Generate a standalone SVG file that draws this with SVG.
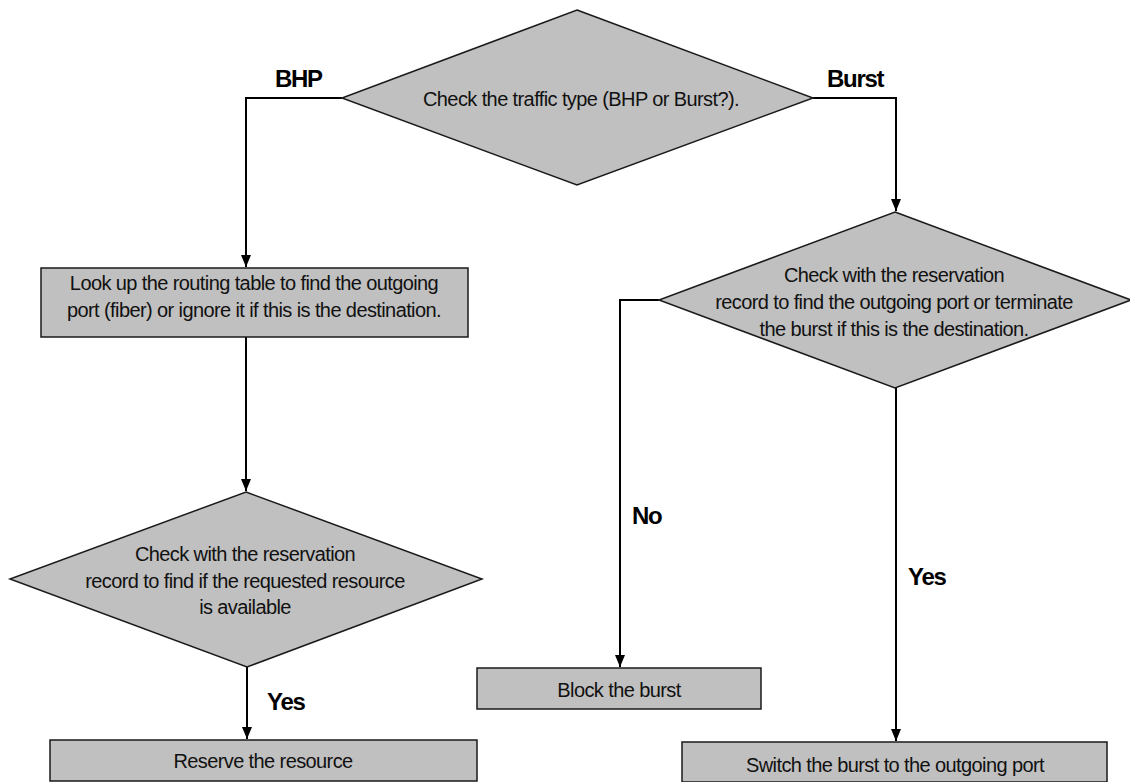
<svg xmlns="http://www.w3.org/2000/svg" width="1130" height="782" viewBox="0 0 1130 782">
<style>
.shape{fill:#c0c0c0;stroke:#1a1a1a;stroke-width:1.5}
.t{font-family:"Liberation Sans",Arial,sans-serif;font-size:20px;letter-spacing:-0.6px;fill:#111;text-anchor:middle}
.lbl{font-family:"Liberation Sans",Arial,sans-serif;font-size:24px;font-weight:bold;letter-spacing:-1.3px;fill:#000}
.c{fill:none;stroke:#000;stroke-width:2}
</style>
<defs>
<marker id="ah" markerUnits="userSpaceOnUse" markerWidth="12" markerHeight="12" refX="12" refY="5" orient="auto">
<path d="M0,0 L12,5 L0,10 Z" fill="#000"/>
</marker>
</defs>
<rect width="1130" height="782" fill="#fff"/>
<g id="connectors">
<polyline class="c" points="342,98 246,98 246,267" marker-end="url(#ah)"/>
<polyline class="c" points="813,98 896,98 896,211" marker-end="url(#ah)"/>
<line class="c" x1="246" y1="337" x2="246" y2="491" marker-end="url(#ah)"/>
<line class="c" x1="247" y1="667" x2="247" y2="739" marker-end="url(#ah)"/>
<polyline class="c" points="659,300 620,300 620,667" marker-end="url(#ah)"/>
<line class="c" x1="896" y1="388" x2="896" y2="741" marker-end="url(#ah)"/>
<text class="lbl" x="275" y="87">BHP</text>
<text class="lbl" x="827" y="87">Burst</text>
<text class="lbl" x="632" y="524">No</text>
<text class="lbl" x="267" y="710">Yes</text>
<text class="lbl" x="908" y="585">Yes</text>
</g>
<g id="n_type">
<polygon class="shape" points="577,10 813,98 577,185 342,98"/>
<text class="t" x="581" y="106">Check the traffic type (BHP or Burst?).</text>
</g>
<g id="n_lookup">
<rect class="shape" x="41" y="268" width="427" height="69"/>
<text class="t" x="254" y="290">Look up the routing table to find the outgoing</text>
<text class="t" x="254" y="317">port (fiber) or ignore it if this is the destination.</text>
</g>
<g id="n_check_bhp">
<polygon class="shape" points="246,492 482,579 247,667 10,579"/>
<text class="t" x="245" y="561">Check with the reservation</text>
<text class="t" x="245" y="588">record to find if the requested resource</text>
<text class="t" x="245" y="614">is available</text>
</g>
<g id="n_reserve">
<rect class="shape" x="50" y="740" width="427" height="41"/>
<text class="t" x="263" y="768">Reserve the resource</text>
</g>
<g id="n_check_burst">
<polygon class="shape" points="895,212 1131,300 895,388 659,300"/>
<text class="t" x="894" y="282">Check with the reservation</text>
<text class="t" x="894" y="309">record to find the outgoing port or terminate</text>
<text class="t" x="894" y="336">the burst if this is the destination.</text>
</g>
<g id="n_block">
<rect class="shape" x="477" y="668" width="284" height="41"/>
<text class="t" x="619" y="697">Block the burst</text>
</g>
<g id="n_switch">
<rect class="shape" x="682" y="742" width="425" height="40"/>
<text class="t" x="895" y="772">Switch the burst to the outgoing port</text>
</g>
</svg>
